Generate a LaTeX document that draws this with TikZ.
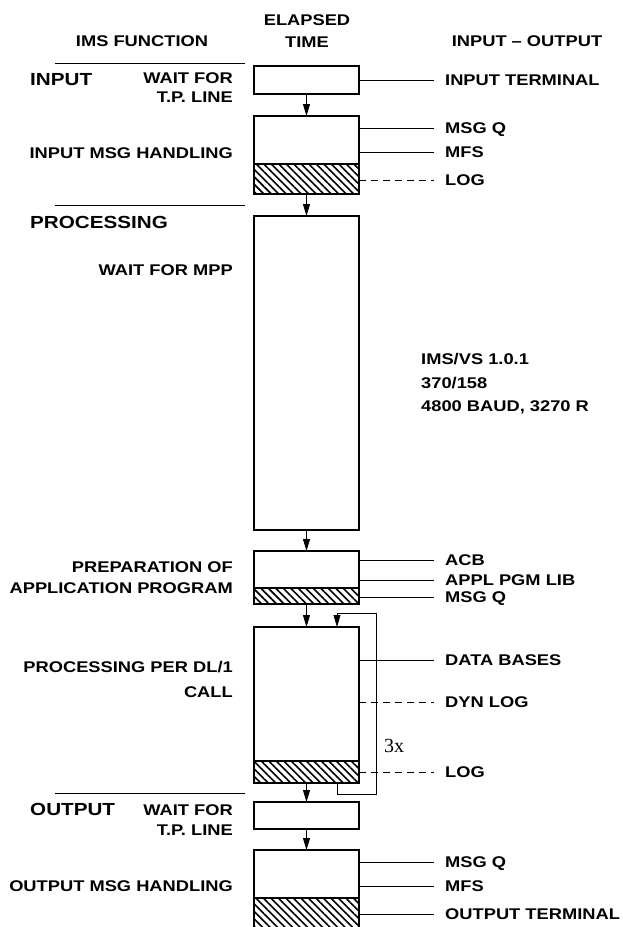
\documentclass[tikz,border=0pt]{standalone}
\usepackage{fontspec}
\setmainfont{Liberation Sans}[FakeStretch=1.18]
\newfontfamily\loopfont{Liberation Serif}
\usetikzlibrary{arrows.meta,positioning,patterns.meta}

\begin{document}
\begin{tikzpicture}[x=1pt,y=-1pt,
    blk/.style={draw,line width=1.2pt,minimum width=105pt,inner sep=0pt,outer sep=0pt,anchor=north},
    loggd/.style={blk,pattern={Lines[angle=-45,distance=5.3pt,line width=1.6pt]}},
    fn/.style={font=\fontsize{15.5}{19.5}\selectfont\bfseries,anchor=east,align=right,inner sep=0pt},
    ttl/.style={font=\fontsize{17.5}{20}\selectfont\bfseries,anchor=west,inner sep=0pt},
    hdr/.style={font=\fontsize{15.5}{22}\selectfont\bfseries,align=center,inner sep=0pt},
    io/.style={font=\fontsize{15.5}{18}\selectfont\bfseries,anchor=west,inner xsep=11pt,inner ysep=0pt,text height=11pt,text depth=0pt},
    arr/.style={-{Triangle[width=7pt,length=12pt]},line width=0.8pt},
    wire/.style={line width=0.8pt},
    dwire/.style={wire,dash pattern=on 7pt off 5pt}
  ]
  \useasboundingbox (0,0) rectangle (623,927);
  % headings
  \node[hdr] (hfn) at (142,41) {IMS FUNCTION};
  \node[hdr] (htm) at (307,31) {ELAPSED\\TIME};
  \node[hdr] (hio) at (527,41) {INPUT \textendash{} OUTPUT};
  \draw[wire] (55,63) -- (245,63);
  \draw[wire] (55,205) -- (245,205);
  \draw[wire] (55,793) -- (245,793);

  % input
  \node[ttl] (tin) at (30,80) {INPUT};
  \node[fn] (f1) at (233,87.5) {WAIT FOR\\T.P. LINE};
  \node[fn] (f2) at (233,153) {INPUT MSG HANDLING};
  \node[blk,minimum height=28pt] (b1) at (306.5,66) {};
  \node[blk,minimum height=48pt] (b2) at (306.5,116) {};
  \node[loggd,minimum height=30pt,below=0pt of b2] (b2l) {};
  \node[io] (i1) at (434,80) {INPUT TERMINAL};
  \node[io] (i2) at (434,128) {MSG Q};
  \node[io] (i3) at (434,152) {MFS};
  \node[io] (i4) at (434,180) {LOG};
  \draw[wire] (b1.east |- i1) -- (i1.west);
  \draw[wire] (b2.east |- i2) -- (i2.west);
  \draw[wire] (b2.east |- i3) -- (i3.west);
  \draw[dwire] (b2l.east |- i4) -- (i4.west);
  \draw[arr] (b1) -- (b2);

  % processing
  \node[ttl] (tpr) at (30,222) {PROCESSING};
  \node[fn] (f3) at (233,270) {WAIT FOR MPP};
  \node[fn,font=\fontsize{15.5}{21}\selectfont\bfseries] (f4) at (233,577.5) {PREPARATION OF\\APPLICATION PROGRAM};
  \node[fn,font=\fontsize{15.5}{25}\selectfont\bfseries] (f5) at (233,679.5) {PROCESSING PER DL/1\\CALL};
  \node[blk,minimum height=314pt] (b3) at (306.5,216) {};
  \node[blk,minimum height=37pt] (b4) at (306.5,551) {};
  \node[loggd,minimum height=16pt,below=0pt of b4] (b4l) {};
  \node[blk,minimum height=134pt] (b5) at (306.5,627) {};
  \node[loggd,minimum height=22pt,below=0pt of b5] (b5l) {};
  \node[font=\fontsize{15.5}{23.5}\selectfont\bfseries,align=left,anchor=west,inner sep=0pt] (sys) at (421,384) {IMS/VS 1.0.1\\370/158\\4800 BAUD, 3270 R};
  \node[io] (i5) at (434,560) {ACB};
  \node[io] (i6) at (434,580) {APPL PGM LIB};
  \node[io] (i7) at (434,597) {MSG Q};
  \node[io] (i8) at (434,660) {DATA BASES};
  \node[io] (i9) at (434,702) {DYN LOG};
  \node[io] (i10) at (434,772) {LOG};
  \draw[wire] (b4.east |- i5) -- (i5.west);
  \draw[wire] (b4.east |- i6) -- (i6.west);
  \draw[wire] (b4l.east |- i7) -- (i7.west);
  \draw[wire] (b5.east |- i8) -- (i8.west);
  \draw[dwire] (b5.east |- i9) -- (i9.west);
  \draw[dwire] (b5l.east |- i10) -- (i10.west);
  \draw[arr] (b2l) -- (b3);
  \draw[arr] (b3) -- (b4);
  \draw[arr] (b4l) -- (b5);
  % loop per DL/1 call
  \draw[arr] ([xshift=30.5pt]b5l.south) |- (376,794) |- (337,613) -- ([xshift=30.5pt]b5.north);
  \node[font=\loopfont\fontsize{20}{20}\selectfont,anchor=west,inner sep=0pt] (rep) at (384,746) {3x};

  % output
  \node[ttl] (tout) at (30,809) {OUTPUT};
  \node[fn] (f6) at (233,820) {WAIT FOR\\T.P. LINE};
  \node[fn] (f7) at (233,886) {OUTPUT MSG HANDLING};
  \node[blk,minimum height=27pt] (b6) at (306.5,802) {};
  \node[blk,minimum height=48pt] (b7) at (306.5,850) {};
  \node[loggd,minimum height=30pt,below=0pt of b7] (b7l) {};
  \node[io] (i11) at (434,862) {MSG Q};
  \node[io] (i12) at (434,886) {MFS};
  \node[io] (i13) at (434,914) {OUTPUT TERMINAL};
  \draw[wire] (b7.east |- i11) -- (i11.west);
  \draw[wire] (b7.east |- i12) -- (i12.west);
  \draw[wire] (b7l.east |- i13) -- (i13.west);
  \draw[arr] (b5l) -- (b6);
  \draw[arr] (b6) -- (b7);
\end{tikzpicture}
\end{document}
